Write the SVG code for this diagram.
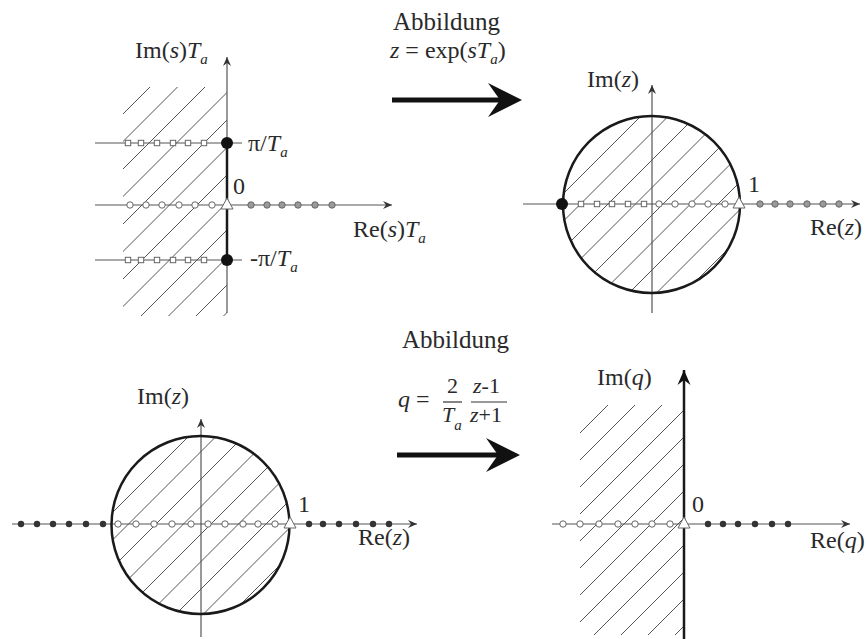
<svg xmlns="http://www.w3.org/2000/svg" width="866" height="639" viewBox="0 0 866 639">
<style>
text{font-family:"Liberation Serif","Times New Roman",serif;font-size:24px;fill:#2a2a2a}
.i{font-style:italic}
.sub{font-size:15px;font-style:italic}
.lbl{font-size:25px}
.frac{font-size:22px}
.ax{stroke:#555;stroke-width:1.2;fill:none}
.thk{stroke:#1a1a1a;stroke-width:2.5;fill:none}
.hatch{stroke:#555;stroke-width:1;fill:none}
.big{stroke:#111;stroke-width:5;fill:none}
</style>
<defs>
<marker id="ah" viewBox="-10 -5 11 10" markerWidth="11" markerHeight="10" refX="0" refY="0" orient="auto" markerUnits="userSpaceOnUse">
<path d="M0,0 L-9,-4 L-6,0 L-9,4 Z" fill="#333"/>
</marker>
<marker id="ahb" viewBox="-16 -8 17 16" markerWidth="17" markerHeight="16" refX="0" refY="0" orient="auto" markerUnits="userSpaceOnUse">
<path d="M0,0 L-15,-6.5 L-10,0 L-15,6.5 Z" fill="#111"/>
</marker>
<rect id="sq" x="-2.7" y="-2.7" width="5.4" height="5.4" fill="#fff" stroke="#666" stroke-width="1"/>
<circle id="oc" r="3.2" fill="#fff" stroke="#666" stroke-width="1"/>
<circle id="gc" r="3.2" fill="#9a9a9a" stroke="#666" stroke-width="1"/>
<circle id="bd" r="3.2" fill="#333"/>
<circle id="bdot" r="6" fill="#111"/>
<path id="tri" d="M0,-7 L6,4 L-6,4 Z" fill="#fff" stroke="#666" stroke-width="1"/>
<clipPath id="c1"><rect x="123" y="87" width="104" height="229"/></clipPath>
<clipPath id="c2"><circle cx="651.5" cy="204.5" r="88.5"/></clipPath>
<clipPath id="c3"><circle cx="200.5" cy="525" r="89"/></clipPath>
<clipPath id="c4"><rect x="580" y="405" width="104" height="230"/></clipPath>
</defs>

<g id="s-plane">
<path class="hatch" clip-path="url(#c1)" d="M110,127 L240,-3 M110,154.5 L240,24.5 M110,182 L240,52 M110,209.5 L240,79.5 M110,237 L240,107 M110,264.5 L240,134.5 M110,292 L240,162 M110,319.5 L240,189.5 M110,347 L240,217 M110,374.5 L240,244.5 M110,402 L240,272 M110,429.5 L240,299.5"/>
<line class="ax" x1="227" y1="313" x2="227" y2="57" marker-end="url(#ah)"/>
<line class="ax" x1="95" y1="205" x2="392" y2="205" marker-end="url(#ah)"/>
<line class="ax" x1="95" y1="143" x2="242" y2="143"/>
<line class="ax" x1="95" y1="260" x2="242" y2="260"/>
<line class="thk" x1="227" y1="143" x2="227" y2="260"/>
<use href="#sq" x="128" y="143"/><use href="#sq" x="141" y="143"/><use href="#sq" x="157" y="143"/><use href="#sq" x="173" y="143"/><use href="#sq" x="188" y="143"/><use href="#sq" x="204" y="143"/>
<use href="#sq" x="128" y="260"/><use href="#sq" x="141" y="260"/><use href="#sq" x="157" y="260"/><use href="#sq" x="173" y="260"/><use href="#sq" x="188" y="260"/><use href="#sq" x="204" y="260"/>
<use href="#oc" x="130" y="205"/><use href="#oc" x="146" y="205"/><use href="#oc" x="162" y="205"/><use href="#oc" x="179" y="205"/><use href="#oc" x="195" y="205"/><use href="#oc" x="212" y="205"/>
<use href="#gc" x="251" y="205"/><use href="#gc" x="267" y="205"/><use href="#gc" x="282" y="205"/><use href="#gc" x="298" y="205"/><use href="#gc" x="315" y="205"/><use href="#gc" x="332" y="205"/>
<use href="#tri" x="227" y="205"/>
<use href="#bdot" x="227" y="143"/>
<use href="#bdot" x="227" y="260"/>
<text x="135" y="58">Im(<tspan class="i">s</tspan>)<tspan class="i">T</tspan><tspan class="sub" dy="6">a</tspan></text>
<text x="248" y="151">π/<tspan class="i">T</tspan><tspan class="sub" dy="6">a</tspan></text>
<text x="233" y="194">0</text>
<text x="353" y="237">Re(<tspan class="i">s</tspan>)<tspan class="i">T</tspan><tspan class="sub" dy="6">a</tspan></text>
<text x="250" y="266">-π/<tspan class="i">T</tspan><tspan class="sub" dy="6">a</tspan></text>
</g>

<g id="z-plane-top">
<path class="hatch" clip-path="url(#c2)" d="M550,207 L750,7 M550,234.5 L750,34.5 M550,262 L750,62 M550,289.5 L750,89.5 M550,317 L750,117 M550,344.5 L750,144.5 M550,372 L750,172 M550,399.5 L750,199.5 M550,427 L750,227"/>
<line class="ax" x1="523" y1="204" x2="860" y2="204" marker-end="url(#ah)"/>
<line class="ax" x1="652" y1="313" x2="652" y2="85" marker-end="url(#ah)"/>
<circle class="thk" cx="651.5" cy="204.5" r="88.5" stroke-width="2.3"/>
<use href="#sq" x="581" y="204"/><use href="#sq" x="597" y="204"/><use href="#sq" x="612" y="204"/><use href="#sq" x="628" y="204"/><use href="#sq" x="644" y="204"/>
<use href="#oc" x="659" y="204"/><use href="#oc" x="675" y="204"/><use href="#oc" x="692" y="204"/><use href="#oc" x="708" y="204"/><use href="#oc" x="725" y="204"/>
<use href="#gc" x="760" y="204"/><use href="#gc" x="775" y="204"/><use href="#gc" x="790" y="204"/><use href="#gc" x="807" y="204"/><use href="#gc" x="823" y="204"/><use href="#gc" x="839" y="204"/>
<use href="#tri" x="739" y="204"/>
<use href="#bdot" x="562" y="204"/>
<text x="587" y="87">Im(<tspan class="i">z</tspan>)</text>
<text x="748" y="192">1</text>
<text x="810" y="235">Re(<tspan class="i">z</tspan>)</text>
</g>

<g id="z-plane-bottom">
<path class="hatch" clip-path="url(#c3)" d="M100,525 L300,325 M100,552.5 L300,352.5 M100,580 L300,380 M100,607.5 L300,407.5 M100,635 L300,435 M100,662.5 L300,462.5 M100,690 L300,490 M100,717.5 L300,517.5 M100,745 L300,545"/>
<line class="ax" x1="12" y1="524" x2="417" y2="524" marker-end="url(#ah)"/>
<line class="ax" x1="201" y1="637" x2="201" y2="419" marker-end="url(#ah)"/>
<circle class="thk" cx="200.5" cy="525" r="89" stroke-width="2.3"/>
<use href="#bd" x="21" y="524"/><use href="#bd" x="37" y="524"/><use href="#bd" x="53" y="524"/><use href="#bd" x="69" y="524"/><use href="#bd" x="86" y="524"/><use href="#bd" x="103" y="524"/>
<use href="#bd" x="309" y="524"/><use href="#bd" x="323" y="524"/><use href="#bd" x="339" y="524"/><use href="#bd" x="356" y="524"/><use href="#bd" x="373" y="524"/><use href="#bd" x="389" y="524"/>
<use href="#oc" x="118" y="524"/><use href="#oc" x="136" y="524"/><use href="#oc" x="154" y="524"/><use href="#oc" x="172" y="524"/><use href="#oc" x="191" y="524"/><use href="#oc" x="208" y="524"/><use href="#oc" x="225" y="524"/><use href="#oc" x="243" y="524"/><use href="#oc" x="258" y="524"/><use href="#oc" x="275" y="524"/>
<use href="#tri" x="290" y="524"/>
<text x="137" y="404">Im(<tspan class="i">z</tspan>)</text>
<text x="298" y="512">1</text>
<text x="358" y="545">Re(<tspan class="i">z</tspan>)</text>
</g>

<g id="q-plane">
<path class="hatch" clip-path="url(#c4)" d="M570,443 L700,313 M570,470 L700,340 M570,497 L700,367 M570,524 L700,394 M570,551 L700,421 M570,578 L700,448 M570,605 L700,475 M570,632 L700,502 M570,659 L700,529 M570,686 L700,556 M570,713 L700,583 M570,740 L700,610"/>
<line class="ax" x1="552" y1="524" x2="850" y2="524" marker-end="url(#ah)"/>
<line class="thk" x1="684" y1="639" x2="684" y2="370" marker-end="url(#ahb)"/>
<use href="#oc" x="563" y="524"/><use href="#oc" x="580" y="524"/><use href="#oc" x="599" y="524"/><use href="#oc" x="618" y="524"/><use href="#oc" x="635" y="524"/><use href="#oc" x="652" y="524"/><use href="#oc" x="670" y="524"/>
<use href="#bd" x="708" y="524"/><use href="#bd" x="723" y="524"/><use href="#bd" x="738" y="524"/><use href="#bd" x="755" y="524"/><use href="#bd" x="772" y="524"/><use href="#bd" x="788" y="524"/>
<use href="#tri" x="684" y="524"/>
<text x="597" y="385">Im(<tspan class="i">q</tspan>)</text>
<text x="692" y="512">0</text>
<text x="810" y="548">Re(<tspan class="i">q</tspan>)</text>
</g>

<g id="connectors">
<g id="map1">
<line class="big" x1="392" y1="100" x2="502" y2="100"/>
<path d="M522,100 L488,83 L500,100 L488,117 Z" fill="#111"/>
<text class="lbl" x="393" y="30">Abbildung</text>
<text x="390" y="58" font-size="23"><tspan class="i">z</tspan> = exp(<tspan class="i">sT</tspan><tspan class="sub" dy="6">a</tspan><tspan dy="-6">)</tspan></text>
</g>
<g id="map2">
<line class="big" x1="397" y1="455" x2="502" y2="455"/>
<path d="M520,455 L486,438 L498,455 L486,472 Z" fill="#111"/>
<text class="lbl" x="402" y="348">Abbildung</text>
<text x="398" y="407"><tspan class="i">q</tspan> =</text>
<text class="frac" x="447" y="393">2</text>
<line x1="443" y1="402" x2="462" y2="402" stroke="#333" stroke-width="1.2"/>
<text class="frac" x="442" y="422"><tspan class="i">T</tspan><tspan class="sub" dy="8">a</tspan></text>
<text class="frac" x="473" y="393"><tspan class="i">z</tspan>-1</text>
<line x1="471" y1="402" x2="507" y2="402" stroke="#333" stroke-width="1.2"/>
<text class="frac" x="470" y="422"><tspan class="i">z</tspan>+1</text>
</g>
</g>
</svg>
